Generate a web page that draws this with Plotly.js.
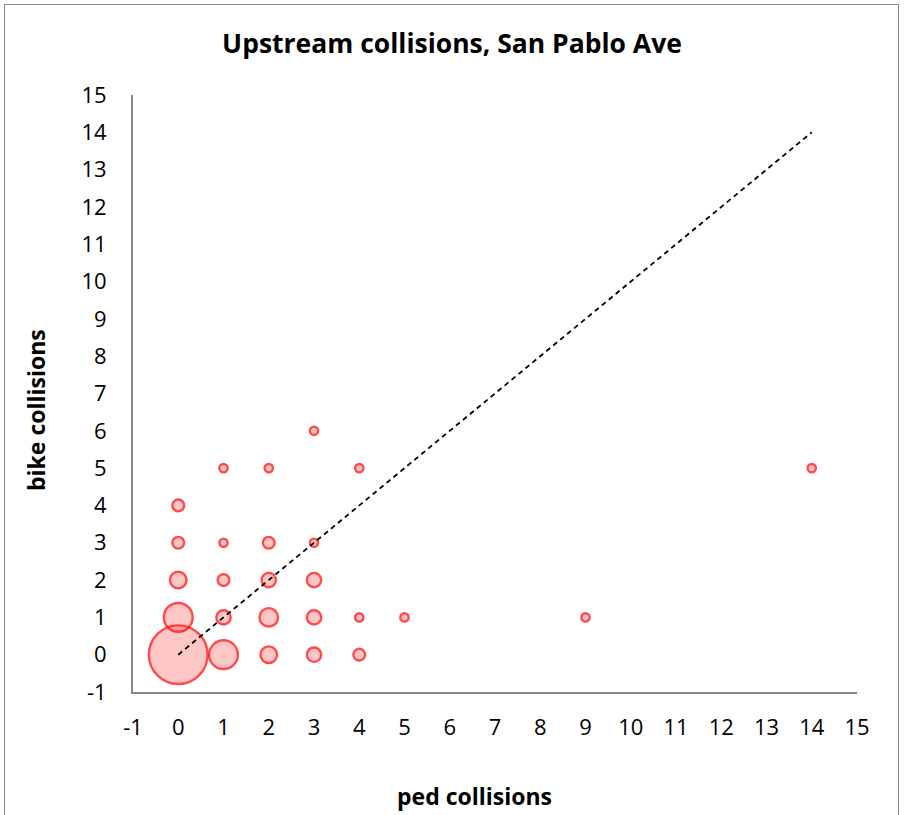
<!DOCTYPE html>
<html>
<head>
<meta charset="utf-8">
<script src="https://cdn.plot.ly/plotly-3.0.1.min.js"></script>
<style>
  html, body { margin: 0; padding: 0; background: #fff; }
  #chart { width: 904px; height: 815px; }
  #frame { position: absolute; left: 4px; top: 4px; width: 895px; height: 900px;
           border: 1px solid #8a8a8a; pointer-events: none; box-sizing: border-box; }
</style>
</head>
<body>
<div id="chart"></div>
<div id="frame"></div>
<script>
// ped collisions (x), bike collisions (y), count of intersections (bubble size)
const pedCollisions  = [0, 1, 0, 2, 3, 4, 1, 2, 3, 4, 5, 9, 0, 1, 2, 3, 0, 1, 2, 3, 0, 1, 2, 4, 14, 3];
const bikeCollisions = [0, 0, 1, 0, 0, 0, 1, 1, 1, 1, 1, 1, 2, 2, 2, 2, 3, 3, 3, 3, 4, 5, 5, 5, 5, 6];
const counts         = [50, 12, 12, 4, 3, 2, 3, 5, 3, 1, 1, 1, 4, 2, 3, 3, 2, 1, 2, 1, 2, 1, 1, 1, 1, 1];

const diagX = [0, 14];
const diagY = [0, 14];

const tickVals = [-1,0,1,2,3,4,5,6,7,8,9,10,11,12,13,14,15];

const titleText = 'Upstream collisions, San Pablo Ave';
const xTitle = 'ped collisions';
const yTitle = 'bike collisions';

const font = "'Open Sans', Lato, sans-serif";

const traces = [
  {
    type: 'scatter', mode: 'markers',
    x: pedCollisions, y: bikeCollisions,
    marker: {
      size: counts, sizemode: 'area', sizeref: 2 / (8.3 * 8.3),
      color: 'rgba(255,30,30,0.36)',
      line: { color: '#ff0000', width: 2.4 }
    },
    cliponaxis: false, hoverinfo: 'x+y'
  },
  {
    type: 'scatter', mode: 'lines',
    x: diagX, y: diagY,
    line: { color: '#000', width: 1.8, dash: '5px,4px' },
    hoverinfo: 'skip'
  }
];

const axisCommon = {
  range: [-1, 15], tickvals: tickVals, ticktext: tickVals.map(String),
  showgrid: false, zeroline: false, showline: true,
  linecolor: '#878787', linewidth: 2, ticks: '',
  tickfont: { family: font, size: 22, color: '#000' },
  fixedrange: true
};

const layout = {
  width: 904, height: 815,
  margin: { l: 133, r: 47, t: 95, b: 123 },
  paper_bgcolor: '#fff', plot_bgcolor: '#fff',
  showlegend: false,
  title: {
    text: '<b>' + titleText + '</b>',
    font: { family: font, size: 26.5, color: '#000' },
    x: 0.5, xanchor: 'center', y: 1 - 44 / 815, yanchor: 'middle'
  },
  xaxis: Object.assign({}, axisCommon, { ticklabelstandoff: 15 }),
  yaxis: Object.assign({}, axisCommon, { ticklabelstandoff: 20 }),
  annotations: [
    {
      xref: 'paper', yref: 'paper', x: (474 - 133) / 724, y: (692 - 796) / 597,
      xanchor: 'center', yanchor: 'middle', showarrow: false,
      text: '<b>' + xTitle + '</b>', font: { family: font, size: 23, color: '#000' }
    },
    {
      xref: 'paper', yref: 'paper', x: (36 - 133) / 724, y: (692 - 410) / 597,
      xanchor: 'center', yanchor: 'middle', showarrow: false, textangle: -90,
      text: '<b>' + yTitle + '</b>', font: { family: font, size: 23, color: '#000' }
    }
  ]
};

Plotly.newPlot('chart', traces, layout, { displayModeBar: false, staticPlot: true });
</script>
</body>
</html>
